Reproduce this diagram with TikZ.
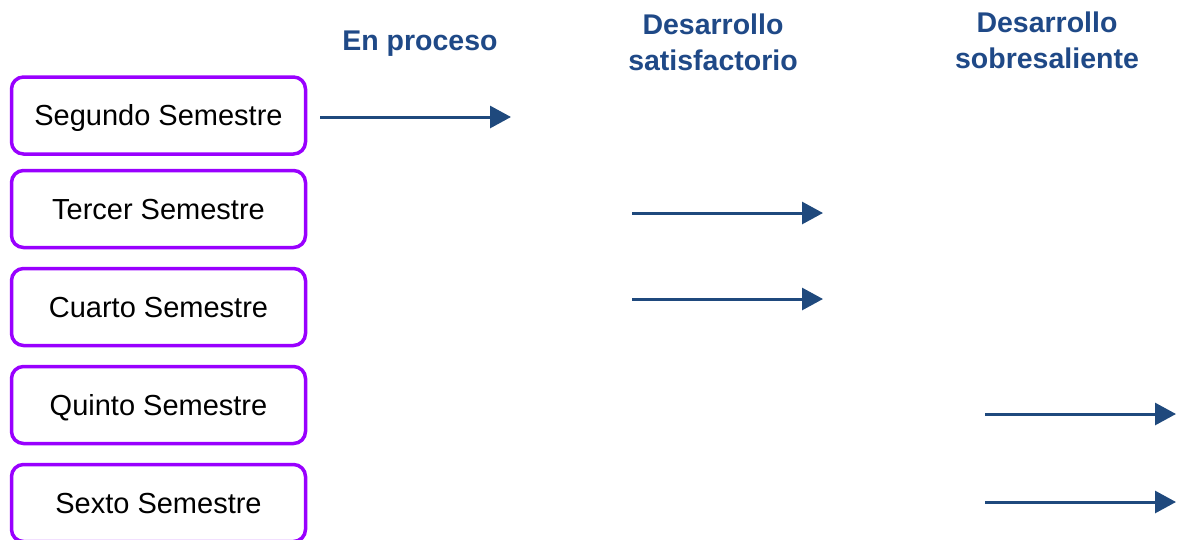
\documentclass[tikz,border=0pt]{standalone}
\usepackage{fontspec}
\setmainfont{Liberation Sans}
\usetikzlibrary{arrows.meta}
\definecolor{boxpurple}{RGB}{153,0,255}
\definecolor{headblue}{RGB}{31,73,135}
\definecolor{arrowblue}{RGB}{31,73,125}
\tikzset{
  sembox/.style={draw=boxpurple, line width=3.5pt, rounded corners=12pt, minimum width=294pt, minimum height=77pt, inner sep=0pt, text height=20.8pt, text depth=0pt, font=\fontsize{29}{32}\selectfont, text=black},
  head/.style={font=\bfseries\fontsize{28.5}{36}\selectfont, text=headblue, align=center, inner sep=0pt},
  levarrow/.style={draw=arrowblue, line width=3pt, -{Triangle[length=21pt,width=22pt]}}
}
\begin{document}
\begin{tikzpicture}[x=1pt,y=-1pt]
\useasboundingbox (0,0) rectangle (1181,539);
% headers
\node[head] (h1) at (420,44) {En proceso};
\node[head] (h2) at (713,42) {Desarrollo\\satisfactorio};
\node[head] (h3) at (1047,40) {Desarrollo\\sobresaliente};
% boxes
\node[sembox] (s2) at (158.5,115.5) {Segundo Semestre};
\node[sembox] (s3) at (158.5,209) {Tercer Semestre};
\node[sembox] (s4) at (158.5,307) {Cuarto Semestre};
\node[sembox] (s5) at (158.5,405) {Quinto Semestre};
\node[sembox] (s6) at (158.5,503) {Sexto Semestre};
% arrow coordinates
\coordinate (a1s) at (320,117);  \coordinate (a1e) at (511,117);
\coordinate (a2s) at (632,213);  \coordinate (a2e) at (823,213);
\coordinate (a3s) at (632,299);  \coordinate (a3e) at (823,299);
\coordinate (a4s) at (985,414);  \coordinate (a4e) at (1176,414);
\coordinate (a5s) at (985,502);  \coordinate (a5e) at (1176,502);
\draw[levarrow] (a1s) -- (a1e);
\draw[levarrow] (a2s) -- (a2e);
\draw[levarrow] (a3s) -- (a3e);
\draw[levarrow] (a4s) -- (a4e);
\draw[levarrow] (a5s) -- (a5e);
\end{tikzpicture}
\end{document}
